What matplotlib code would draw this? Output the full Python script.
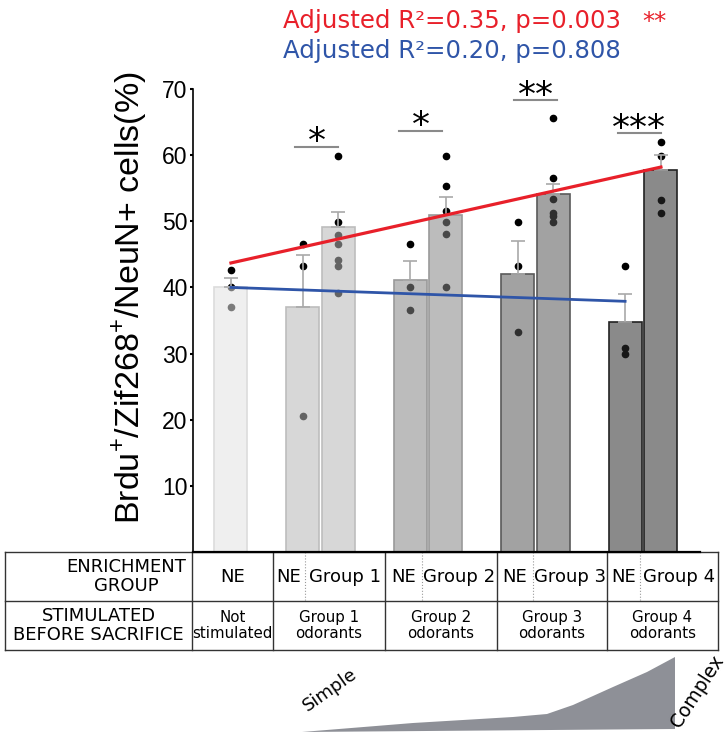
import matplotlib
matplotlib.use("Agg")
import matplotlib.pyplot as plt
from matplotlib.patches import Polygon

plt.rcParams['font.family'] = ['DejaVu Sans']
plt.rcParams['mathtext.fontset'] = 'custom'
plt.rcParams['mathtext.rm'] = 'Liberation Sans'

# posiciones de las barras (NE solo, luego parejas NE / Group n)
positions = [0, 2, 3, 5, 6, 8, 9, 11, 12]
means = [40.0, 37.0, 49.1, 41.1, 50.9, 42.1, 54.2, 34.7, 57.8]
sems = [1.5, 7.9, 2.3, 2.9, 2.7, 4.9, 1.5, 4.3, 2.2]
points = [
    [42.7, 40.0, 37.0],
    [46.5, 43.2, 20.6],
    [59.9, 49.9, 48.0, 46.5, 44.2, 43.2, 39.2],
    [46.5, 40.0, 36.6],
    [59.9, 55.4, 51.6, 49.9, 48.1, 40.0],
    [49.9, 43.2, 33.2],
    [65.6, 56.5, 53.3, 51.3, 50.8, 49.9],
    [43.2, 30.8, 30.0],
    [62.0, 59.8, 53.2, 51.2],
]
# gris final de cada barra (sobre blanco) y color del borde
bar_grays = [239, 215, 215, 188, 188, 162, 162, 138, 138]
edge_colors = ['#dcdcdc', '#bdbdbd', '#bdbdbd', '#9a9a9a', '#9a9a9a',
               '#5a5a5a', '#5a5a5a', '#222222', '#222222']

# rectas de regresion
red_x = [0, 12]
red_y = [43.7, 58.2]
blue_x = [0, 11]
blue_y = [40.0, 37.9]

# significancia
sig_x = [(1.8, 3.0), (4.7, 5.9), (7.9, 9.1), (10.8, 12.0)]
sig_y = [61.3, 63.7, 68.3, 63.3]
sig_labels = ['*', '*', '**', '***']

title_red = 'Adjusted R²=0.35, p=0.003'
title_blue = 'Adjusted R²=0.20, p=0.808'

row1_labels = ['NE', 'NE', 'Group 1', 'NE', 'Group 2', 'NE', 'Group 3', 'NE', 'Group 4']
row2_labels = ['Not\nstimulated', 'Group 1\nodorants', 'Group 2\nodorants',
               'Group 3\nodorants', 'Group 4\nodorants']

RED = '#e8202a'
BLUE = '#2f55a8'

fig = plt.figure(figsize=(7.28, 7.33), dpi=100)

# capa de fondo en pixeles para tabla, titulos y triangulo
bg = fig.add_axes([0, 0, 1, 1])
bg.set_xlim(0, 728)
bg.set_ylim(733, 0)
bg.axis('off')

ax = fig.add_axes([193 / 728, 1 - 552 / 733, 507 / 728, 463 / 733])
ax.set_facecolor('none')

alpha = 0.55
for p, m, g, ec, pts in zip(positions, means, bar_grays, edge_colors, points):
    c = (g - (1 - alpha) * 255) / alpha / 255
    ax.bar(p, m, width=0.92, color=(c, c, c, alpha), edgecolor=ec,
           linewidth=1.2, zorder=2)
    ax.plot([p] * len(pts), pts, 'o', color='black', ms=4.5, zorder=1)

ax.errorbar(positions, means, yerr=[[0] * len(sems), sems], fmt='none',
            ecolor='#a9a9a9', elinewidth=1.2, capsize=5, capthick=1.2, zorder=3)

ax.plot(red_x, red_y, color=RED, lw=2.3, zorder=4)
ax.plot(blue_x, blue_y, color=BLUE, lw=2.0, zorder=4)

for (x0, x1), y, lab in zip(sig_x, sig_y, sig_labels):
    ax.plot([x0, x1], [y, y], color='#8a8a8a', lw=1.5, clip_on=False)
    ax.text((x0 + x1) / 2, y + 0.7, lab, ha='center', va='center',
            fontsize=26, clip_on=False)

ax.set_xlim(-1.06, 13.09)
ax.set_ylim(0, 70)
ax.set_yticks([10, 20, 30, 40, 50, 60, 70])
ax.set_xticks([])
ax.tick_params(axis='y', length=2, width=1.5, pad=2, labelsize=16.5)
for lab in ax.get_yticklabels():
    lab.set_fontfamily('Liberation Sans')
ax.spines['top'].set_visible(False)
ax.spines['right'].set_visible(False)
ax.spines['left'].set_linewidth(1.2)
ax.spines['bottom'].set_linewidth(1.6)

fig.text(130 / 728, 1 - 298 / 733, r'Brdu$^{+}$/Zif268$^{+}$/NeuN+ cells(%)',
         rotation=90, ha='center', va='center', fontsize=24.5,
         family='Liberation Sans')

# titulos
bg.text(283, 28, title_red, color=RED, fontsize=17.6, va='baseline')
bg.text(642, 29, '**', color=RED, fontsize=17.6, va='baseline')
bg.text(283, 58, title_blue, color=BLUE, fontsize=17.6, va='baseline')

# tabla
top, mid, bot = 552, 601, 650
solid = [5, 192, 273, 385, 497, 607, 718]
dotted = [305, 422, 533, 640]
for y in (top, mid, bot):
    bg.plot([solid[0], solid[-1]], [y, y], color='#333333', lw=1.0)
for x in solid:
    bg.plot([x, x], [top, bot], color='#333333', lw=1.0)
for x in dotted:
    bg.plot([x, x], [top, mid], color='#999999', lw=0.8, ls=':')

bg.text(186, (top + mid) / 2, 'ENRICHMENT\nGROUP', ha='right', va='center',
        multialignment='center', fontsize=13, linespacing=1.05)
bg.text((solid[0] + solid[1]) / 2, (mid + bot) / 2, 'STIMULATED\nBEFORE SACRIFICE',
        ha='center', va='center', multialignment='center', fontsize=13,
        linespacing=1.05)

cell_edges = [192, 273, 305, 385, 422, 497, 533, 607, 640, 718]
for i, lab in enumerate(row1_labels):
    bg.text((cell_edges[i] + cell_edges[i + 1]) / 2, (top + mid) / 2, lab,
            ha='center', va='center', fontsize=13)
for i, lab in enumerate(row2_labels):
    bg.text((solid[i + 1] + solid[i + 2]) / 2, (mid + bot) / 2, lab,
            ha='center', va='center', fontsize=10.8, linespacing=1.1)

# triangulo de complejidad
wedge = [(302, 732), (413, 723), (513, 717), (547, 714), (573, 705),
         (613, 687), (647, 672), (675, 657), (675, 729)]
bg.add_patch(Polygon(wedge, closed=True, color='#8e9097', lw=0))
bg.text(330, 690, 'Simple', rotation=35, ha='center', va='center', fontsize=13)
bg.text(697, 691, 'Complex', rotation=57, ha='center', va='center', fontsize=13.5)

fig.savefig('out.png', dpi=100)
